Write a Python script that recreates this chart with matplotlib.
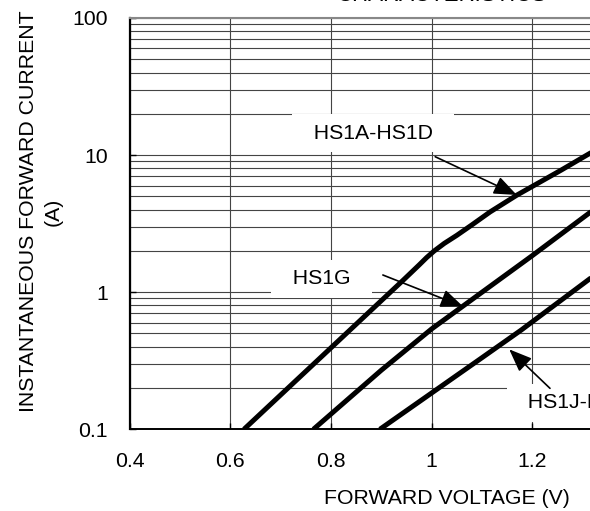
import matplotlib
matplotlib.use("Agg")
import matplotlib.pyplot as plt
from matplotlib.ticker import FixedLocator, NullFormatter

plt.rcParams['font.family'] = ['Liberation Sans', 'DejaVu Sans']

# forward characteristics
v_a_d = [0.627, 0.944, 0.975, 0.99, 1.005, 1.025, 1.05, 1.08, 1.116, 1.169, 1.258, 1.32]
i_a_d = [0.1, 1.23, 1.58, 1.79, 2.0, 2.27, 2.6, 3.1, 3.85, 5.1, 7.8, 10.6]

v_g = [0.765, 0.9, 1.0, 1.1, 1.2, 1.32]
i_g = [0.1, 0.27, 0.54, 1.0, 1.85, 3.95]

v_j_m = [0.897, 1.10, 1.178, 1.32]
i_j_m = [0.1, 0.333, 0.53, 1.3]

x_ticks = [0.4, 0.6, 0.8, 1.0, 1.2, 1.4, 1.6]
x_tick_labels = ['0.4', '0.6', '0.8', '1', '1.2', '1.4', '1.6']
y_ticks = [0.1, 1, 10, 100]
y_tick_labels = ['0.1', '1', '10', '100']

# label text, label anchor (V, A), arrow tail, arrow tip
labels = ['HS1A-HS1D', 'HS1G', 'HS1J-HS1M']
label_pos = [(0.884, 14.4), (0.781, 1.25), (1.168, 0.156)]
arrow_tail = [(1.007, 9.73), (0.903, 1.335), (1.235, 0.199)]
arrow_tip = [(1.169, 5.12), (1.063, 0.783), (1.154, 0.383)]

fs = 15.3
fig = plt.figure(figsize=(5.9, 5.11), dpi=100)
ax = fig.add_axes([129.7 / 590, 81.7 / 511, 604 / 590, 411.3 / 511])

ax.set_yscale('log')
ax.set_xlim(0.4, 1.6)
ax.set_ylim(0.1, 100)

for v, i in [(v_a_d, i_a_d), (v_g, i_g), (v_j_m, i_j_m)]:
    ax.plot(v, i, color='black', lw=3.6, solid_capstyle='butt', solid_joinstyle='round', zorder=2)

ax.xaxis.set_major_locator(FixedLocator(x_ticks))
ax.set_xticklabels(x_tick_labels)
ax.yaxis.set_major_locator(FixedLocator(y_ticks))
ax.set_yticklabels(y_tick_labels)
minors = [m * 10.0 ** e for e in (-1, 0, 1) for m in range(2, 10)]
ax.yaxis.set_minor_locator(FixedLocator(minors))
ax.yaxis.set_minor_formatter(NullFormatter())

ax.tick_params(which='major', direction='in', length=4.5, width=1.0, labelsize=fs)
ax.tick_params(axis='y', which='major', pad=15.8)
ax.tick_params(axis='x', which='major', pad=16)
ax.tick_params(which='minor', length=0)

ax.set_axisbelow(True)
ax.grid(which='major', axis='x', color='#444444', lw=0.8)
ax.grid(which='both', axis='y', color='#444444', lw=0.8)

ax.spines['left'].set_linewidth(1.6)
ax.spines['bottom'].set_linewidth(1.4)
ax.spines['top'].set_color('#888888')
ax.spines['top'].set_linewidth(1.5)

for i, (txt, pos) in enumerate(zip(labels, label_pos)):
    ha = 'left' if i == 2 else 'center'
    ax.text(pos[0], pos[1], '  ' + txt + '  ', fontsize=fs, ha=ha, va='center', zorder=1,
            bbox=dict(boxstyle='square,pad=0.45', fc='white', ec='none'))

for tail, tip in zip(arrow_tail, arrow_tip):
    ax.annotate('', xy=tip, xytext=tail, zorder=3,
                arrowprops=dict(arrowstyle='-|>,head_length=0.7,head_width=0.28',
                                mutation_scale=20, color='black', lw=1.2,
                                shrinkA=0, shrinkB=0))

fig.text(40.5 / 590, 1 - 211.5 / 511, 'INSTANTANEOUS FORWARD CURRENT\n(A)',
         rotation=90, ha='center', va='center', ma='center', fontsize=fs, linespacing=1.35)
fig.text(446.8 / 590, 1 - 498 / 511, 'FORWARD VOLTAGE (V)', ha='center', va='center', fontsize=fs)
fig.text(442.5 / 590, 1 - 1.3 / 511, 'CHARACTERISTICS', ha='center', va='baseline', fontsize=16)

fig.savefig('out.png', dpi=100)
